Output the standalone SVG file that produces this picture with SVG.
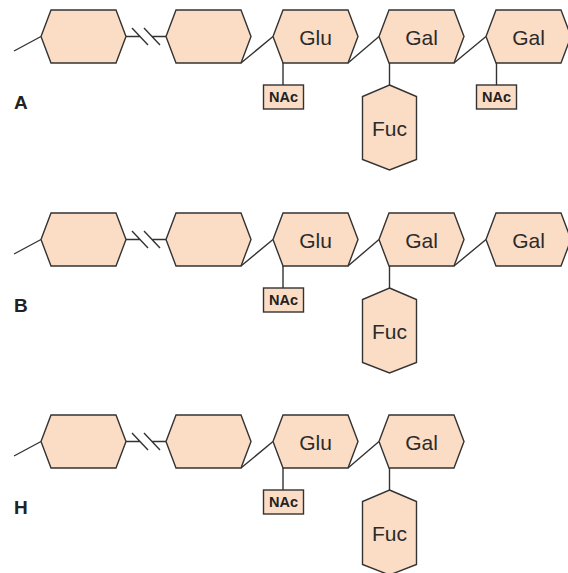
<svg xmlns="http://www.w3.org/2000/svg" xmlns:xlink="http://www.w3.org/1999/xlink" width="568" height="573" viewBox="0 0 568 573">
<style>
.sh{fill:#fbdcc5;stroke:#333;stroke-width:1.4;stroke-linejoin:miter}
.ln{fill:none;stroke:#333;stroke-width:1.4}
.t{font-family:"Liberation Sans",Arial,sans-serif;font-size:21px;fill:#2b2b2b;text-anchor:middle}
.n{font-family:"Liberation Sans",Arial,sans-serif;font-size:14.5px;font-weight:bold;fill:#222;text-anchor:middle}
.lb{font-family:"Liberation Sans",Arial,sans-serif;font-size:19px;font-weight:bold;fill:#222}
</style>
<defs>
<polygon id="hx" points="-42.5,0 -32.5,-26.5 32.5,-26.5 42.5,0 32.5,26.5 -32.5,26.5"/>
<polygon id="vx" points="0,-42.5 27,-31 27,32 0,42.5 -27,32 -27,-31"/>
</defs>
<g id="connectors">
<g id="conn-A">
<path class="ln" d="M14,51 L41,36.5 M126,36.5 L140,36.5 M152,36.5 L166,36.5 M132,28 L148,45 M144,28 L160,45 M241,63 L273,36.5 M283,63 L283,85 M348,63 L379,36.5 M389.5,63 L389.5,85 M454,63 L486,36.5 M496.5,63 L496.5,85"/>
</g>
<g id="conn-B" transform="translate(0,203)">
<path class="ln" d="M14,51 L41,36.5 M126,36.5 L140,36.5 M152,36.5 L166,36.5 M132,28 L148,45 M144,28 L160,45 M241,63 L273,36.5 M283,63 L283,85 M348,63 L379,36.5 M389.5,63 L389.5,85 M454,63 L486,36.5"/>
</g>
<g id="conn-H" transform="translate(0,405)">
<path class="ln" d="M14,51 L41,36.5 M126,36.5 L140,36.5 M152,36.5 L166,36.5 M132,28 L148,45 M144,28 L160,45 M241,63 L273,36.5 M283,63 L283,85 M348,63 L379,36.5 M389.5,63 L389.5,85"/>
</g>
</g>
<g id="row-A">
<g id="A-hex1"><use xlink:href="#hx" href="#hx" class="sh" x="83.5" y="36.5"/></g>
<g id="A-hex2"><use xlink:href="#hx" href="#hx" class="sh" x="208.5" y="36.5"/></g>
<g id="A-glu"><use xlink:href="#hx" href="#hx" class="sh" x="315.5" y="36.5"/><text class="t" x="315.5" y="44.5">Glu</text></g>
<g id="A-gal1"><use xlink:href="#hx" href="#hx" class="sh" x="421.5" y="36.5"/><text class="t" x="421.5" y="44.5">Gal</text></g>
<g id="A-gal2"><use xlink:href="#hx" href="#hx" class="sh" x="528.5" y="36.5"/><text class="t" x="528.5" y="44.5">Gal</text></g>
<g id="A-nac1"><rect class="sh" x="263.5" y="85" width="40" height="24"/><text class="n" x="283.5" y="102">NAc</text></g>
<g id="A-nac2"><rect class="sh" x="476.5" y="85" width="40" height="24"/><text class="n" x="496.5" y="102">NAc</text></g>
<g id="A-fuc"><use xlink:href="#vx" href="#vx" class="sh" x="389.5" y="127.5"/><text class="t" x="389.5" y="136">Fuc</text></g>
<text id="A-label" class="lb" x="14" y="109">A</text>
</g>
<g id="row-B" transform="translate(0,203)">
<g id="B-hex1"><use xlink:href="#hx" href="#hx" class="sh" x="83.5" y="36.5"/></g>
<g id="B-hex2"><use xlink:href="#hx" href="#hx" class="sh" x="208.5" y="36.5"/></g>
<g id="B-glu"><use xlink:href="#hx" href="#hx" class="sh" x="315.5" y="36.5"/><text class="t" x="315.5" y="44.5">Glu</text></g>
<g id="B-gal1"><use xlink:href="#hx" href="#hx" class="sh" x="421.5" y="36.5"/><text class="t" x="421.5" y="44.5">Gal</text></g>
<g id="B-gal2"><use xlink:href="#hx" href="#hx" class="sh" x="528.5" y="36.5"/><text class="t" x="528.5" y="44.5">Gal</text></g>
<g id="B-nac1"><rect class="sh" x="263.5" y="85" width="40" height="24"/><text class="n" x="283.5" y="102">NAc</text></g>
<g id="B-fuc"><use xlink:href="#vx" href="#vx" class="sh" x="389.5" y="127.5"/><text class="t" x="389.5" y="136">Fuc</text></g>
<text id="B-label" class="lb" x="14" y="109">B</text>
</g>
<g id="row-H" transform="translate(0,405)">
<g id="H-hex1"><use xlink:href="#hx" href="#hx" class="sh" x="83.5" y="36.5"/></g>
<g id="H-hex2"><use xlink:href="#hx" href="#hx" class="sh" x="208.5" y="36.5"/></g>
<g id="H-glu"><use xlink:href="#hx" href="#hx" class="sh" x="315.5" y="36.5"/><text class="t" x="315.5" y="44.5">Glu</text></g>
<g id="H-gal1"><use xlink:href="#hx" href="#hx" class="sh" x="421.5" y="36.5"/><text class="t" x="421.5" y="44.5">Gal</text></g>
<g id="H-nac1"><rect class="sh" x="263.5" y="85" width="40" height="24"/><text class="n" x="283.5" y="102">NAc</text></g>
<g id="H-fuc"><use xlink:href="#vx" href="#vx" class="sh" x="389.5" y="127.5"/><text class="t" x="389.5" y="136">Fuc</text></g>
<text id="H-label" class="lb" x="14" y="109">H</text>
</g>
</svg>
